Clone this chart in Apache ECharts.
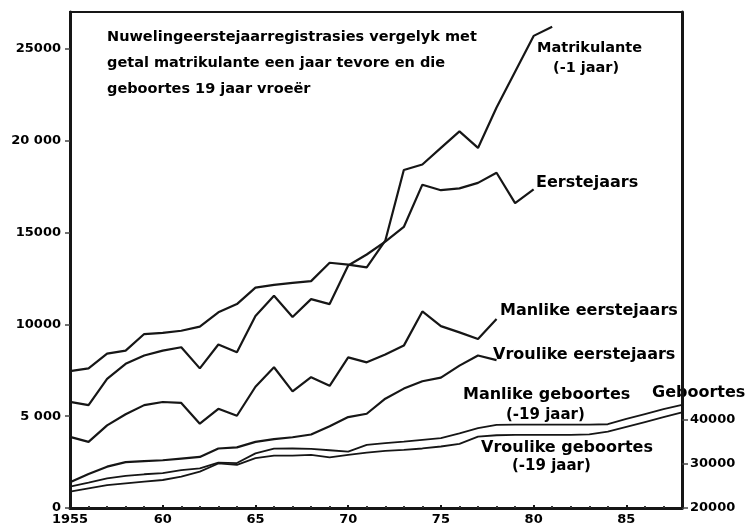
<!DOCTYPE html>
<html>
<head>
<meta charset="utf-8">
<title>Nuwelingeerstejaarregistrasies</title>
<script src="https://cdn.jsdelivr.net/npm/echarts@6/dist/echarts.min.js"></script>
<style>
  html, body { margin: 0; padding: 0; background: #fff; }
  #chart { width: 746px; height: 526px; }
</style>
</head>
<body>
<div id="chart"></div>
<script>
// jare (x-as)
const firstYear = 1955
const xTickLabels = ['1955', '60', '65', '70', '75', '80', '85']
const yTickValues = [0, 5000, 10000, 15000, 20000, 25000]
const yTickLabels = ['0', '5 000', '10000', '15000', '20 000', '25000']
const birthTickValues = [20000, 30000, 40000]
const birthTickLabels = ['20000', '30000', '40000']

// matrikulante een jaar tevore, 1955-1981
const matrikulante = [7450, 7600, 8400, 8570, 9470, 9530, 9650, 9870, 10650, 11100,
  12000, 12150, 12250, 12350, 13350, 13250, 13100, 14550, 18400, 18700,
  19600, 20500, 19600, 21800, 23750, 25700, 26200]
// eerstejaars, 1955-1980
const eerstejaars = [5780, 5600, 7030, 7850, 8300, 8570, 8750, 7600, 8900, 8480,
  10450, 11550, 10400, 11370, 11100, 13200, 13800, 14500, 15300, 17600,
  17300, 17400, 17700, 18250, 16600, 17340]
// manlike eerstejaars, 1955-1978
const manlikeEerstejaars = [3870, 3600, 4500, 5100, 5600, 5770, 5720, 4590, 5400, 5020,
  6600, 7660, 6350, 7120, 6650, 8200, 7930, 8350, 8840, 10700,
  9900, 9560, 9200, 10290]
// vroulike eerstejaars, 1955-1978
const vroulikeEerstejaars = [1400, 1850, 2250, 2500, 2550, 2600, 2690, 2780, 3240, 3300,
  3600, 3750, 3850, 4000, 4450, 4950, 5130, 5950, 6500, 6900,
  7100, 7750, 8300, 8050]
// geboortes 19 jaar vroeer (regter as), 1955-1988
const manlikeGeboortes = [24850, 25750, 26700, 27300, 27650, 27900, 28600, 29000, 30300, 30200,
  32400, 33450, 33500, 33400, 33100, 32800, 34300, 34700, 35050, 35450,
  35850, 36950, 38100, 38850, 38900, 38900, 38900, 38900, 38900, 39000,
  40200, 41300, 42400, 43400]
const vroulikeGeboortes = [23700, 24450, 25200, 25600, 26000, 26350, 27100, 28250, 30100, 29800,
  31300, 31900, 31900, 32050, 31500, 32050, 32550, 32950, 33200, 33500,
  33950, 34550, 36200, 36500, 36600, 36600, 36600, 36600, 36700, 37300,
  38400, 39500, 40600, 41700]

const toPairs = (arr) => arr.map((v, i) => [firstYear + i, v])

const FONT = 'DejaVu Sans'
const ink = '#161616'

const chart = echarts.init(document.getElementById('chart'))

const lineSeries = (name, data, yIndex, width) => ({
  name,
  type: 'line',
  yAxisIndex: yIndex,
  data: toPairs(data),
  symbol: 'none',
  silent: true,
  lineStyle: { color: ink, width: width }
})

const label = (text, x, y, size) => ({
  type: 'text',
  x: x,
  y: y,
  style: {
    text: text,
    fill: '#000',
    font: 'bold ' + size + 'px "' + FONT + '"',
    textVerticalAlign: 'middle'
  }
})

const option = {
  backgroundColor: '#fff',
  animation: false,
  grid: {
    left: 70, right: 64, top: 12, bottom: 18,
    show: true, borderColor: ink, borderWidth: 2
  },
  xAxis: {
    type: 'value',
    min: 1955,
    max: 1988,
    interval: 5,
    splitLine: { show: false },
    axisLine: { lineStyle: { color: ink, width: 3 } },
    axisTick: { inside: true, length: 3, lineStyle: { color: ink, width: 2 } },
    minorTick: { show: true, splitNumber: 5, length: 2, lineStyle: { color: '#333', width: 2 } },
    axisLabel: {
      margin: 5,
      color: '#000',
      fontFamily: FONT,
      fontWeight: 'bold',
      fontSize: 13,
      formatter: (v) => xTickLabels[(v - 1955) / 5] || ''
    }
  },
  yAxis: [
    {
      type: 'value',
      min: 0,
      max: 27000,
      interval: 5000,
      splitLine: { show: false },
      axisLine: { show: true, lineStyle: { color: ink, width: 3 } },
      axisTick: { show: true, length: 5, customValues: yTickValues, lineStyle: { color: '#444', width: 1.5 } },
      axisLabel: {
        margin: 9,
        color: '#000',
        fontFamily: FONT,
        fontWeight: 'bold',
        fontSize: 13,
        formatter: (v) => {
          const i = yTickValues.indexOf(v)
          return i >= 0 ? yTickLabels[i] : ''
        }
      }
    },
    {
      type: 'value',
      position: 'right',
      min: 20000,
      max: 132500,
      splitLine: { show: false },
      axisLine: { show: true, lineStyle: { color: ink, width: 3 } },
      axisTick: { show: true, length: 6, customValues: birthTickValues, lineStyle: { color: '#444', width: 1.5 } },
      axisLabel: {
        margin: 8,
        color: '#000',
        fontFamily: FONT,
        fontWeight: 'bold',
        fontSize: 13,
        customValues: birthTickValues,
        formatter: (v) => {
          const i = birthTickValues.indexOf(v)
          return i >= 0 ? birthTickLabels[i] : ''
        }
      }
    }
  ],
  series: [
    lineSeries('Matrikulante (-1 jaar)', matrikulante, 0, 2.2),
    lineSeries('Eerstejaars', eerstejaars, 0, 2.2),
    lineSeries('Manlike eerstejaars', manlikeEerstejaars, 0, 2.2),
    lineSeries('Vroulike eerstejaars', vroulikeEerstejaars, 0, 2.2),
    lineSeries('Manlike geboortes (-19 jaar)', manlikeGeboortes, 1, 1.8),
    lineSeries('Vroulike geboortes (-19 jaar)', vroulikeGeboortes, 1, 1.8)
  ],
  graphic: [
    label('Nuwelingeerstejaarregistrasies vergelyk met', 107, 37, 14.5),
    label('getal matrikulante een jaar tevore en die', 107, 63, 14.5),
    label('geboortes 19 jaar vroeër', 107, 89, 14.5),
    label('Matrikulante', 537, 48, 14.5),
    label('(-1 jaar)', 553, 68, 14.5),
    label('Eerstejaars', 536, 183, 16),
    label('Manlike eerstejaars', 500, 311, 16),
    label('Vroulike eerstejaars', 493, 355, 16),
    label('Manlike geboortes', 463, 395, 16),
    label('(-19 jaar)', 506, 415, 15),
    label('Vroulike geboortes', 481, 448, 16),
    label('(-19 jaar)', 512, 466, 15),
    label('Geboortes', 652, 393, 16)
  ]
}

chart.setOption(option)
window.addEventListener('resize', () => chart.resize())
</script>
</body>
</html>
